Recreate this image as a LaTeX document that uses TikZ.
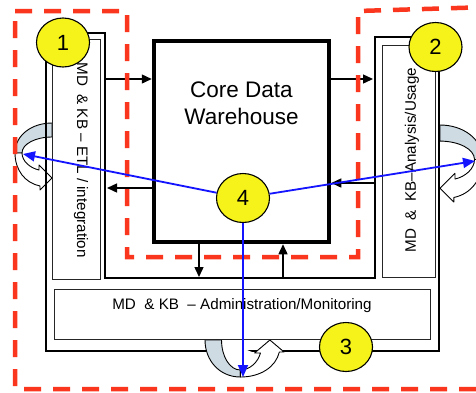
\documentclass[tikz,border=0pt]{standalone}
\usepackage{fontspec}
\setmainfont{Liberation Sans}
\usetikzlibrary{arrows.meta,shapes.geometric}
\definecolor{dashred}{RGB}{250,55,30}
\definecolor{bulbyellow}{RGB}{245,243,25}
\definecolor{backgray}{RGB}{206,219,226}
\definecolor{arrblue}{RGB}{20,20,255}
\tikzset{
  frameline/.style={line width=2.2pt},
  innerbox/.style={draw=black!85,line width=0.9pt,inner sep=0pt},
  corebox/.style={draw,line width=4.5pt,minimum width=175pt,minimum height=201pt,inner sep=0pt},
  bulb/.style={ellipse,draw,line width=1.1pt,fill=bulbyellow,minimum width=53pt,minimum height=49pt,inner sep=0pt,font=\fontsize{22}{26}\selectfont},
  midtext/.style={inner sep=0pt,font=\fontsize{15.2}{18}\selectfont},
  blkarrow/.style={line width=1.4pt,-{Triangle[length=10pt,width=9pt]}},
  bluearrow/.style={draw=arrblue,line width=1.8pt,-{Triangle[length=12pt,width=10pt]}},
  reddash/.style={draw=dashred,line width=4.5pt,dash pattern=on 17pt off 12pt},
  curvedge/.style={draw=black,line width=0.9pt,line join=round},
  pics/uturn/.style={code={
    \path[curvedge,fill=backgray] (0,0) .. controls (20,0) and (37,12) .. (37,30) -- (30,30) .. controls (30,21) and (16.5,14) .. (0,14) -- cycle;
    \path[curvedge,fill=white] (37,30) .. controls (37,47) and (27,60) .. (12,63) -- (12,67) -- (0,55) -- (13,42) -- (13,47) .. controls (22,45) and (30,38) .. (30,30) -- cycle;
  }},
  pics/uturnhole/.style={code={
    \fill[white] (0,0) .. controls (20,0) and (37,12) .. (37,30) .. controls (37,47) and (27,60) .. (12,63) -- (12,67) -- (0,55) -- (13,42) -- (0,14) -- cycle;
  }}
}
\begin{document}
\begin{tikzpicture}[x=1pt,y=-1pt]
\useasboundingbox (0,0) rectangle (476,392);
\clip (0,0) rectangle (476,392);
\fill[white] (0,0) rectangle (476,392);

% curved arrows at the sides (behind the frame)
\begin{scope}[shift={(52pt,-123pt)},x={(-1pt,0pt)},y={(0pt,-1pt)}]
  \pic {uturn};
\end{scope}
\begin{scope}[shift={(440pt,-125pt)},x={(1.15pt,0pt)},y={(0pt,-1.15pt)}]
  \pic {uturn};
\end{scope}

% main frame
\draw[frameline] (46,33) -- (105,33) -- (105,278) -- (375,278) -- (375,37) -- (439,37) -- (439,351) -- (46,351) -- cycle;

% bottom curved arrow (over the frame)
\begin{scope}[shift={(205pt,-340pt)},x={(0pt,-1pt)},y={(1.18pt,0pt)}]
  \pic {uturnhole};
  \pic {uturn};
\end{scope}

% inner boxes
\node[innerbox,minimum width=48pt,minimum height=240pt] (etl) at (76,159) {};
\node[innerbox,minimum width=53pt,minimum height=232pt] (anl) at (408.5,161) {};
\node[innerbox,minimum width=376pt,minimum height=50pt] (adm) at (242,314) {};
\node[corebox,fill=white] (core) at (241.5,141.5) {};

% texts
\node[inner sep=0pt,align=center,font=\fontsize{22.5}{27}\selectfont] (coretext) at (241.5,103) {Core Data\\Warehouse};
\node[midtext,rotate=-90] (etltext) at (81,160) {MD\ \ \& KB – ETL / integration};
\node[midtext,rotate=90] (anltext) at (412,160) {MD\ \ \&\ \ KB–Analysis/Usage};
\node[midtext] (admtext) at (242,306) {MD\ \ \& KB\ \ – Administration/Monitoring};

% black arrows
\coordinate (e1) at (105,79);
\coordinate (e2) at (107,188);
\coordinate (a1) at (373,79);
\coordinate (a2) at (375,183);
\coordinate (dd) at (199,277);
\coordinate (uu) at (283,278);
\draw[blkarrow] (e1) -- (core.west |- e1);
\draw[blkarrow] (core.west |- e2) -- (e2);
\draw[blkarrow] (core.east |- a1) -- (a1);
\draw[blkarrow] (a2) -- (core.east |- a2);
\draw[blkarrow] (core.south -| dd) -- (dd);
\draw[blkarrow] (uu) -- (core.south -| uu);

% red dashed outline
\draw[reddash] (15,11) -- (127,11) -- (127,257) -- (358,257) -- (358,11) -- (490,7) -- (490,389) -- (15,389) -- cycle;

% numbered bulbs and blue arrows
\node[bulb] (c1) at (63,42.5) {1};
\node[bulb] (c2) at (435.5,47) {2};
\node[bulb] (c3) at (346,347) {3};
\node[bulb] (c4) at (243,198) {4};
\coordinate (bl) at (23,154);
\coordinate (br) at (475,161);
\coordinate (bd) at (243,377);
\draw[bluearrow] (c4) -- (bl);
\draw[bluearrow] (c4) -- (br);
\draw[bluearrow] (c4) -- (bd);
\end{tikzpicture}
\end{document}
